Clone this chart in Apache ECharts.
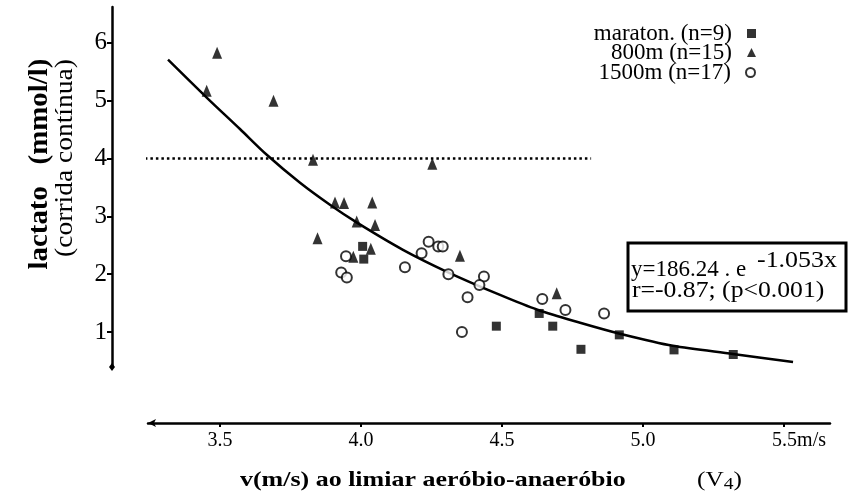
<!DOCTYPE html>
<html><head><meta charset="utf-8">
<script src="https://cdn.jsdelivr.net/npm/echarts@6/dist/echarts.min.js"></script>
<style>html,body{margin:0;padding:0;background:#fff}#c{width:848px;height:501px}</style>
</head><body><div id="c"></div>
<script>
const FONT = '"Liberation Serif", "Times New Roman", serif';
const xTicks = [3.5, 4.0, 4.5, 5.0, 5.5];
const yTicks = [1, 2, 3, 4, 5, 6];
const seriesNames = ['maraton. (n=9)', '800m (n=15)', '1500m (n=17)'];
const maraton = [[4.006,2.48],[4.01,2.26],[4.48,1.10],[4.632,1.32],[4.68,1.10],[4.78,0.70],[4.916,0.95],[5.11,0.69],[5.32,0.61]];
const m800 = [[3.453,5.17],[3.49,5.83],[3.69,5.00],[3.83,3.98],[4.253,3.91],[3.908,3.24],[3.94,3.23],[4.04,3.24],[3.985,2.91],[4.05,2.85],[3.846,2.62],[4.035,2.44],[3.973,2.30],[4.351,2.32],[4.694,1.67]];
const m1500 = [[3.947,2.31],[3.93,2.03],[3.95,1.94],[4.156,2.12],[4.215,2.36],[4.24,2.56],[4.274,2.48],[4.29,2.48],[4.31,2.00],[4.436,1.96],[4.42,1.81],[4.378,1.60],[4.358,1.00],[4.643,1.57],[4.725,1.38],[4.862,1.32]];
const fitCurve = [[3.316,5.71],[3.454,5.05],[3.571,4.51],[3.667,4.06],[3.784,3.58],[3.890,3.20],[3.986,2.89],[4.149,2.42],[4.305,2.04],[4.493,1.64],[4.628,1.38],[4.777,1.16],[4.918,0.97],[5.106,0.76],[5.319,0.62],[5.532,0.48]];
const threshold = [[3.117,4],[4.816,4]];
const xRange = [3.245, 5.663];
const yRange = [0.394, 6.62];

const chart = echarts.init(document.getElementById('c'));
const legendBase = (name, top) => ({
  data: [name], right: 92, top: top, orient: 'vertical', align: 'right',
  itemWidth: 9, itemHeight: 9, padding: 0, selectedMode: false,
  textStyle: { fontFamily: FONT, fontSize: 23, color: '#000', lineHeight: 20, padding: [0, 10, 0, 0] }
});
chart.setOption({
  animation: false,
  backgroundColor: '#fff',
  grid: { left: 148, right: 18, top: 7, bottom: 134, containLabel: false },
  legend: [legendBase(seriesNames[0], 22), legendBase(seriesNames[1], 41), legendBase(seriesNames[2], 61)],
  xAxis: {
    type: 'value', min: xRange[0], max: xRange[1], offset: 56,
    splitLine: { show: false },
    axisLine: { lineStyle: { color: '#000', width: 2.5 }, symbol: ['arrow', 'none'], symbolSize: [6, 8] },
    axisTick: { customValues: xTicks, length: 4, lineStyle: { color: '#000', width: 2 } },
    axisLabel: {
      customValues: xTicks, margin: 8, color: '#000', fontFamily: FONT, fontSize: 20,
      formatter: v => (Math.abs(v - 5.5) < 1e-9 ? '{p|}5.5{u|m/s}' : v.toFixed(1)),
      rich: { p: { width: 30 }, u: { fontFamily: FONT, fontSize: 20, color: '#000' } }
    }
  },
  yAxis: {
    type: 'value', min: yRange[0], max: yRange[1], offset: 36,
    splitLine: { show: false },
    axisLine: { lineStyle: { color: '#000', width: 2.5 }, symbol: ['diamond', 'none'], symbolSize: [6, 8] },
    axisTick: { customValues: yTicks, length: 5, lineStyle: { color: '#000', width: 2 } },
    axisLabel: { customValues: yTicks, margin: 5, color: '#000', fontFamily: FONT, fontSize: 25, formatter: v => String(Math.round(v)) }
  },
  graphic: [
    { type: 'text', x: 40, y: 164, rotation: Math.PI / 2,
      style: { text: 'lactato   (mmol/l)', font: 'bold 27px ' + FONT, fill: '#000', textAlign: 'center', textVerticalAlign: 'middle' }, scaleX: 1.07 },
    { type: 'text', x: 65, y: 158, rotation: Math.PI / 2,
      style: { text: '(corrida contínua)', font: '25px ' + FONT, fill: '#000', textAlign: 'center', textVerticalAlign: 'middle' }, scaleX: 1.1 },
    { type: 'text', x: 240, y: 480, scaleX: 1.18,
      style: { text: 'v(m/s) ao limiar aeróbio-anaeróbio', font: 'bold 22px ' + FONT, fill: '#000', textAlign: 'left', textVerticalAlign: 'middle' } },
    { type: 'text', x: 697, y: 480, scaleX: 1.15,
      style: { text: '{n|(V}{s|4}{n|)}', fill: '#000', textAlign: 'left', textVerticalAlign: 'middle',
        rich: { n: { font: '22px ' + FONT, fill: '#000' }, s: { font: '17px ' + FONT, fill: '#000', padding: [9, 0, 0, 0] } } } },
    { type: 'rect', shape: { x: 628, y: 243, width: 218, height: 68 }, style: { fill: 'none', stroke: '#000', lineWidth: 3 } },
    { type: 'text', x: 631, y: 270, style: { text: 'y=186.24 . e', font: '23px ' + FONT, fill: '#000', textAlign: 'left', textVerticalAlign: 'middle' } },
    { type: 'text', x: 757, y: 261, scaleX: 1.08, style: { text: '-1.053x', font: '24px ' + FONT, fill: '#000', textAlign: 'left', textVerticalAlign: 'middle' } },
    { type: 'text', x: 632, y: 291, scaleX: 1.07, style: { text: 'r=-0.87; (p<0.001)', font: '24px ' + FONT, fill: '#000', textAlign: 'left', textVerticalAlign: 'middle' } }
  ],
  series: [
    { name: seriesNames[0], type: 'scatter', data: maraton, symbol: 'rect', symbolSize: 9, itemStyle: { color: '#000' }, z: 5 },
    { name: seriesNames[1], type: 'scatter', data: m800, symbol: 'triangle', symbolSize: [10, 12], itemStyle: { color: '#000' }, z: 5 },
    { name: seriesNames[2], type: 'scatter', data: m1500, symbol: 'emptyCircle', symbolSize: 10, itemStyle: { color: '#000', borderColor: '#000', borderWidth: 2 }, z: 5 },
    { type: 'line', data: fitCurve, smooth: 0.3, showSymbol: false, symbol: 'none', lineStyle: { color: '#000', width: 2.5 }, z: 3 },
    { type: 'line', data: threshold, showSymbol: false, symbol: 'none', clip: false, lineStyle: { color: '#000', width: 2.5, type: [2.5, 3] }, z: 2 }
  ]
});
</script></body></html>
